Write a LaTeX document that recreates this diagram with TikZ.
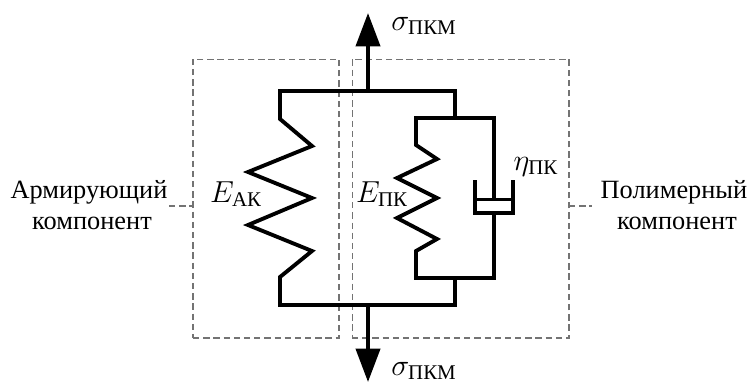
\documentclass[tikz,border=0pt]{standalone}
\usepackage{amsmath,amssymb}
\usepackage{fontspec}
\setmainfont{Liberation Serif}
\usetikzlibrary{arrows.meta}
\tikzset{
    wire/.style={line width=2.2pt, line join=miter, line cap=rect},
    force/.style={line width=2.2pt, -{Triangle[length=19pt, width=13.7pt]}},
    zone/.style={draw=black!55, line width=0.6pt, dash pattern=on 3.6pt off 2.2pt},
    lbl/.style={inner sep=0pt, anchor=base, font=\fontsize{17}{20}\selectfont},
    caption/.style={inner sep=0pt, anchor=base, font=\fontsize{15}{17.6}\selectfont}
}
\begin{document}
\begin{tikzpicture}[x=0.02cm, y=-0.02cm]
        \useasboundingbox (0, 0) rectangle (750, 383);
        % dashed zones
        \node[zone, minimum width=2.92cm, minimum height=5.58cm, inner sep=0pt] (Zone1) at (266, 198.5) {};
        \node[zone, minimum width=4.34cm, minimum height=5.58cm, inner sep=0pt] (Zone2) at (460.5, 198.5) {};
        % captions
        \node[caption] (Cap1) at (89, 198) {Армирующий};
        \node[caption] (Cap1b) at (92, 229) {компонент};
        \node[caption] (Cap2) at (674, 198) {Полимерный};
        \node[caption] (Cap2b) at (677, 229) {компонент};
        \coordinate (L1) at (169, 206);
        \coordinate (L2) at (193, 206);
        \coordinate (R1) at (569, 206);
        \coordinate (R2) at (592, 206);
        \draw[zone] (L1) to (L2);
        \draw[zone] (R1) to (R2);
        % outer frame
        \coordinate (T) at (368, 91);
        \coordinate (T1) at (280, 91);
        \coordinate (T2) at (455, 91);
        \coordinate (B) at (368, 305);
        \coordinate (B1) at (280, 305);
        \coordinate (B2) at (455, 305);
        \coordinate (Top) at (368, 13);
        \coordinate (Bot) at (368, 382);
        \draw[force] (T) to (Top);
        \draw[force] (B) to (Bot);
        \draw[wire] (T1) to (T2);
        \draw[wire] (B1) to (B2);
        % big spring
        \draw[wire] (T1) -- (280, 119) -- (312, 146) -- (248, 172) -- (312, 198)
            -- (248, 225) -- (312, 251) -- (280, 277) -- (B1);
        % inner branch
        \coordinate (C) at (455, 118);
        \coordinate (C1) at (416, 118);
        \coordinate (C2) at (494, 118);
        \coordinate (D) at (455, 278);
        \coordinate (D1) at (416, 278);
        \coordinate (D2) at (494, 278);
        \draw[wire] (T2) to (C);
        \draw[wire] (D) to (B2);
        \draw[wire] (C1) to (C2);
        \draw[wire] (D1) to (D2);
        % small spring
        \draw[wire] (C1) -- (416, 145) -- (437, 159) -- (397, 178) -- (437, 198)
            -- (397, 218) -- (437, 239) -- (416, 251) -- (D1);
        % dashpot
        \coordinate (P) at (494, 199);
        \coordinate (Q) at (494, 213);
        \draw[wire] (C2) to (P);
        \draw[wire] (Q) to (D2);
        \draw[wire] (475, 182) -- (475, 213) -- (513, 213) -- (513, 182);
        \draw[line width=1.7pt] (475, 199) -- (513, 199);
        % labels
        \node[lbl] (EA) at (236, 202) {$E_{\text{АК}}$};
        \node[lbl] (EP) at (382, 202) {$E_{\text{ПК}}$};
        \node[lbl] (Eta) at (536, 170) {$\eta_{\text{ПК}}$};
        \node[lbl] (S1) at (424, 30) {$\sigma_{\text{ПКМ}}$};
        \node[lbl] (S2) at (424, 375) {$\sigma_{\text{ПКМ}}$};
    \end{tikzpicture}
\end{document}
